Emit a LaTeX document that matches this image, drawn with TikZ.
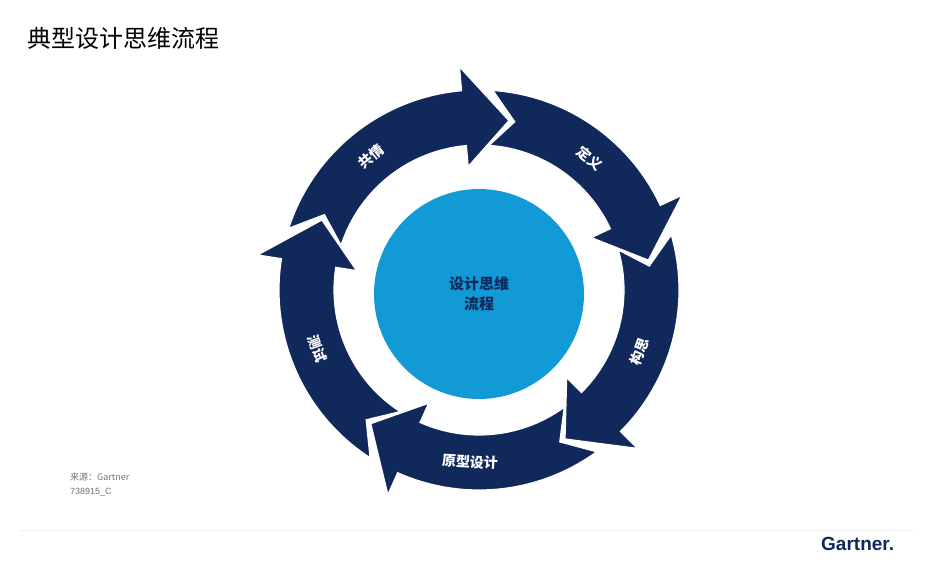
\documentclass[tikz,border=0pt]{standalone}
\usepackage{fontspec}
\setmainfont{Liberation Sans}
\newfontfamily\cjk{Noto Sans CJK SC}
\usetikzlibrary{calc}
\definecolor{navy}{HTML}{10285A}
\definecolor{cblue}{HTML}{129AD6}
\tikzset{
  arr/.style={fill=navy,draw=white,line width=1.2pt,line join=miter},
  lab/.style={text=white,font=\cjk\bfseries\fontsize{14}{14}\selectfont,inner sep=0pt},
}
\newcommand\cycarrow[2]{% tail angle, tip angle (clockwise)
  \pgfmathsetmacro\hb{#2+15}
  \pgfmathsetmacro\nt{#1-8}
  \filldraw[arr] ($(C)+(#1:200)$) arc[start angle=#1,end angle=\hb,radius=200]
    -- ($(C)+(\hb:224)$) -- ($(C)+(#2:172)$) -- ($(C)+(\hb:124)$)
    -- ($(C)+(\hb:145)$) arc[start angle=\hb,end angle=#1,radius=145]
    -- ($(C)+(\nt:172)$) -- cycle;
}
\begin{document}
\begin{tikzpicture}[x=1pt,y=1pt]
\fill[white] (0,0) rectangle (933,576);
\useasboundingbox (0,0) rectangle (933,576);
\draw[black!6,line width=0.8pt] (20,46) -- (915,46);
\coordinate (C) at (479,286);
\node[anchor=west,inner sep=0pt,font=\cjk\fontsize{24}{24}\selectfont] (title) at (27,538) {典型设计思维流程};
\cycarrow{162}{80}
\cycarrow{86}{10}
\cycarrow{16}{-60}
\cycarrow{-54}{-129}
\cycarrow{237}{156}
\node[circle,fill=cblue,minimum size=210pt,inner sep=0pt,align=center,
  font=\cjk\bfseries\fontsize{15}{20}\selectfont,text=navy] (ctr) at (479,282) {设计思维\\流程};
\node[lab,rotate=39] (l1) at ($(C)+(129:172)$) {共情};
\node[lab,rotate=-40] (l2) at ($(C)+(50:172)$) {定义};
\node[lab,rotate=69] (l3) at ($(C)+(-21:172)$) {构思};
\node[lab,rotate=-3] (l4) at ($(C)+(-93:172)$) {原型设计};
\node[lab,rotate=-70] (l5) at ($(C)+(-160:172)$) {测试};
\node[anchor=west,inner sep=0pt,text=black!55,font=\cjk\fontsize{9}{9}\selectfont] (src) at (70,99) {来源：Gartner};
\node[anchor=west,inner sep=0pt,text=black!55,font=\fontsize{9}{9}\selectfont] (id) at (70,84) {738915\_C};
\node[anchor=west,inner sep=0pt,text=navy,font=\bfseries\fontsize{19}{19}\selectfont] (logo) at (821,32) {Gartner.};
\end{tikzpicture}
\end{document}
